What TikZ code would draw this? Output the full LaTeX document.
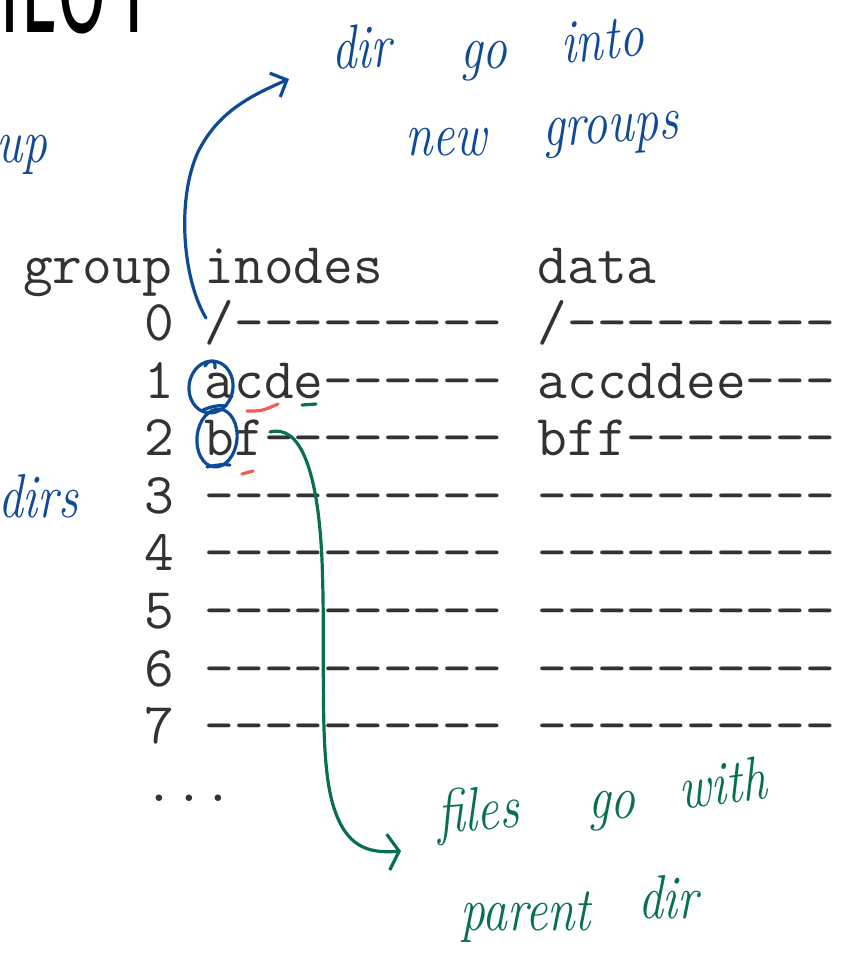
\documentclass[tikz,border=0pt]{standalone}
\usepackage{fontspec}
\usetikzlibrary{arrows.meta,shapes.geometric}
\newfontfamily\titlefont{Fira Sans}
\definecolor{inkblue}{RGB}{14,74,150}
\definecolor{inkgreen}{RGB}{8,112,80}
\definecolor{inkred}{RGB}{242,92,84}
\definecolor{codegray}{RGB}{50,50,50}
\newcommand\dashn[1]{\foreach\q in {1,...,#1}{-}}
\begin{document}
\begin{tikzpicture}[x=1pt,y=-1pt,
  code/.style={font=\ttfamily\fontsize{57.7}{58}\selectfont, text=codegray, anchor=base west, inner sep=0pt},
  hand/.style={font=\itshape\fontsize{62}{62}\selectfont, inner sep=0pt, anchor=base west, xscale=0.8, transform shape},
  hwblue/.style={hand, text=inkblue},
  hwgreen/.style={hand, text=inkgreen},
  titlech/.style={font=\titlefont\fontsize{130}{130}\selectfont, inner sep=0pt, xscale=0.55, transform shape, anchor=base},
  pen/.style={line width=3.2pt, line cap=round, line join=round},
  ring/.style={pen, draw=inkblue, ellipse, inner sep=0pt},
]
\useasboundingbox (0,0) rectangle (846,974);

% title fragment
\node[titlech] (t1) at (10,33) {T};
\node[titlech] (t2) at (38,33) {L};
\node[titlech] (t3) at (82,33) {O};
\node[titlech] (t4) at (134,33) {Y};

% table
\node[code] (hg) at (23,283) {group};
\node[code] (hi) at (204.6,283) {inodes};
\node[code] (hd) at (537.6,283) {data};

\node[code] (n0) at (144.1,340.5) {0};
\node[code] (i0) at (204.6,340.5) {/\dashn{9}};
\node[code] (d0) at (537.6,340.5) {/\dashn{9}};

\node[code] (n1) at (144.1,398.1) {1};
\node[code] (i1) at (204.6,398.1) {acde\dashn{6}};
\node[code] (d1) at (537.6,398.1) {accddee\dashn{3}};

\node[code] (n2) at (144.1,455.7) {2};
\node[code] (i2) at (204.6,455.7) {bf\dashn{8}};
\node[code] (d2) at (537.6,455.7) {bff\dashn{7}};

\node[code] (n3) at (144.1,513.3) {3};
\node[code] (i3) at (204.6,513.3) {\dashn{10}};
\node[code] (d3) at (537.6,513.3) {\dashn{10}};

\node[code] (n4) at (144.1,570.9) {4};
\node[code] (i4) at (204.6,570.9) {\dashn{10}};
\node[code] (d4) at (537.6,570.9) {\dashn{10}};

\node[code] (n5) at (144.1,628.5) {5};
\node[code] (i5) at (204.6,628.5) {\dashn{10}};
\node[code] (d5) at (537.6,628.5) {\dashn{10}};

\node[code] (n6) at (144.1,686.1) {6};
\node[code] (i6) at (204.6,686.1) {\dashn{10}};
\node[code] (d6) at (537.6,686.1) {\dashn{10}};

\node[code] (n7) at (144.1,743.7) {7};
\node[code] (i7) at (204.6,743.7) {\dashn{10}};
\node[code] (d7) at (537.6,743.7) {\dashn{10}};

\node[code] (nd) at (144.1,801.3) {...};

% blue handwriting
\node[hwblue, rotate=3] (w1) at (332,70) {dir};
\node[hwblue] (w2) at (460,68) {go};
\node[hwblue, rotate=5] (w3) at (562,64) {into};
\node[hwblue] (w4) at (405,155) {new};
\node[hwblue, rotate=3] (w5) at (543,147) {groups};
\node[hwblue] (w6) at (-4,162) {up};
\node[hwblue] (w7) at (-2,517) {dirs};

% green handwriting
\node[hwgreen, rotate=4] (g1) at (438,834) {files};
\node[hwgreen] (g2) at (588,818) {go};
\node[hwgreen, rotate=6] (g3) at (680,810) {with};
\node[hwgreen] (g4) at (460,930) {parent};
\node[hwgreen] (g5) at (638,918) {dir};

% rings
\node[ring, minimum width=44pt, minimum height=52pt, rotate=-8] (ra) at (211,387) {};
\node[ring, minimum width=40pt, minimum height=58pt, rotate=-6] (rb) at (217,438) {};
\draw[pen, inkblue] (205,366) .. controls (210,358) and (216,360) .. (215,368);
\draw[pen, inkblue] (203,410) .. controls (212,406) and (220,405) .. (226,406);
\draw[pen, inkblue] (207,467) .. controls (216,465) and (224,464) .. (230,465);

% small marks
\draw[pen, inkred] (247,411) .. controls (262,411) .. (278,404);
\draw[pen, inkgreen] (302,405) -- (316,404);
\draw[pen, inkred] (242,474) -- (253,471);

% arrows
\coordinate (bs) at (206,318);
\coordinate (bt) at (289,79);
\draw[pen, inkblue, -{Straight Barb[length=13pt,width=26pt]}]
  (bs) .. controls (183,280) and (176,200) .. (198,152)
       .. controls (218,112) and (250,96) .. (bt);

\coordinate (gs) at (270,432);
\coordinate (gt) at (401,851);
\draw[pen, inkgreen, -{Straight Barb[length=11pt,width=36pt]}]
  (gs) .. controls (300,424) and (318,470) .. (322,560)
       .. controls (326,660) and (318,760) .. (334,808)
       .. controls (346,845) and (366,854) .. (gt);
\end{tikzpicture}
\end{document}
